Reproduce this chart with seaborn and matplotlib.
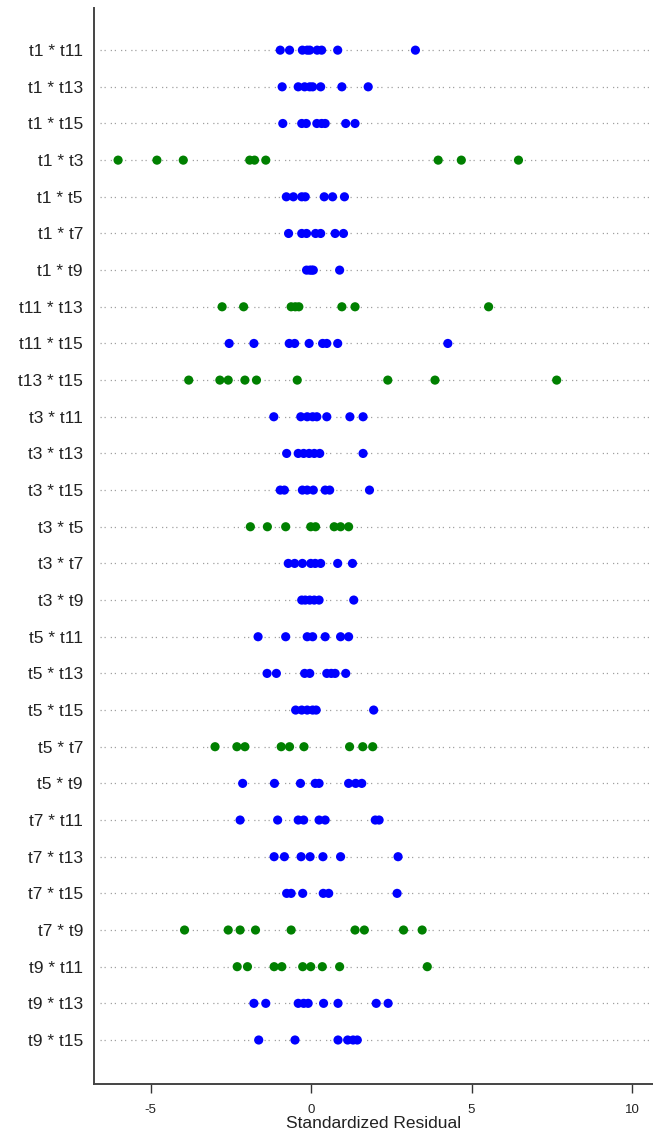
import numpy as np
import pandas as pd
import matplotlib
matplotlib.use("Agg")
import matplotlib.pyplot as plt
import seaborn as sns

# Item pairs, in display order (top to bottom)
pairs = [
    "t1 * t11", "t1 * t13", "t1 * t15", "t1 * t3", "t1 * t5", "t1 * t7", "t1 * t9",
    "t11 * t13", "t11 * t15", "t13 * t15", "t3 * t11", "t3 * t13", "t3 * t15",
    "t3 * t5", "t3 * t7", "t3 * t9", "t5 * t11", "t5 * t13", "t5 * t15", "t5 * t7",
    "t5 * t9", "t7 * t11", "t7 * t13", "t7 * t15", "t7 * t9", "t9 * t11",
    "t9 * t13", "t9 * t15",
]

# Standardized residuals for each pair
residuals = [
    [-0.96, -0.67, -0.27, -0.12, -0.04, 0.19, 0.33, 0.83, 3.25],
    [-0.90, -0.40, -0.20, -0.04, 0.05, 0.30, 0.96, 1.78],
    [-0.88, -0.29, -0.15, 0.18, 0.33, 0.44, 1.08, 1.37],
    [-6.01, -4.80, -3.98, -1.91, -1.76, -1.41, 3.96, 4.68, 6.46],
    [-0.77, -0.55, -0.29, -0.18, 0.41, 0.67, 1.04],
    [-0.70, -0.29, -0.14, 0.14, 0.30, 0.75, 1.01],
    [-0.14, -0.04, 0.02, 0.07, 0.89],
    [-2.77, -2.10, -0.62, -0.49, -0.38, 0.96, 1.37, 5.53],
    [-2.55, -1.78, -0.68, -0.51, -0.06, 0.36, 0.49, 0.83, 4.26],
    [-3.81, -2.84, -2.58, -2.06, -1.70, -0.43, 2.39, 3.86, 7.65],
    [-1.16, -0.32, -0.12, 0.05, 0.18, 0.49, 1.21, 1.62],
    [-0.76, -0.40, -0.23, -0.06, 0.10, 0.27, 1.62],
    [-0.96, -0.83, -0.27, -0.12, 0.07, 0.44, 0.58, 1.82],
    [-1.89, -1.36, -0.79, -0.01, 0.14, 0.72, 0.92, 1.17],
    [-0.71, -0.51, -0.27, -0.01, 0.13, 0.30, 0.83, 1.29],
    [-0.29, -0.18, -0.04, 0.10, 0.25, 1.33],
    [-1.65, -0.79, -0.12, 0.05, 0.44, 0.92, 1.17],
    [-1.37, -1.08, -0.20, -0.04, 0.49, 0.63, 0.75, 1.08],
    [-0.48, -0.29, -0.12, 0.05, 0.16, 1.95],
    [-2.99, -2.31, -2.06, -0.93, -0.67, -0.22, 1.20, 1.61, 1.92],
    [-2.13, -1.14, -0.33, 0.13, 0.25, 1.17, 1.39, 1.58],
    [-2.21, -1.04, -0.40, -0.23, 0.25, 0.44, 2.00, 2.12],
    [-1.15, -0.83, -0.31, -0.03, 0.37, 0.92, 2.71],
    [-0.76, -0.62, -0.26, 0.38, 0.55, 2.68],
    [-3.94, -2.58, -2.21, -1.73, -0.62, 1.37, 1.66, 2.88, 3.46],
    [-2.30, -1.98, -1.15, -0.91, -0.26, -0.01, 0.35, 0.89, 3.62],
    [-1.78, -1.41, -0.40, -0.23, -0.09, 0.39, 0.84, 2.03, 2.40],
    [-1.63, -0.50, 0.84, 1.14, 1.31, 1.44],
]

# Pairs of neighbouring items are flagged and drawn in green
neighbour_pairs = {"t1 * t3", "t3 * t5", "t5 * t7", "t7 * t9",
                   "t9 * t11", "t11 * t13", "t13 * t15"}

x_ticks = [-5, 0, 5, 10]
x_label = "Standardized Residual"

rows = []
for pair, vals in zip(pairs, residuals):
    group = "neighbour" if pair in neighbour_pairs else "other"
    for v in vals:
        rows.append({"pair": pair, "resid": v, "group": group})
df = pd.DataFrame(rows)

sns.set_style("white")
plt.rcParams["font.family"] = ["Liberation Sans", "DejaVu Sans"]

fig = plt.figure(figsize=(6.53, 11.38), dpi=100)
ax = fig.add_axes([94 / 653, 54 / 1138, 1 - 94 / 653, 1076 / 1138])

# Dotted guide line behind each row
for i in range(len(pairs)):
    ax.axhline(i, xmin=0.01, xmax=1.0, color="#a0a0a0", lw=0.9,
               linestyle=(0, (1, 2.2, 1, 4)), zorder=0)

sns.stripplot(data=df, x="resid", y="pair", hue="group", order=pairs,
              palette={"other": "#0000ff", "neighbour": "#008000"},
              jitter=False, size=6.6, linewidth=0, legend=False, ax=ax,
              zorder=3)

ax.set_xlim(-6.76, 10.65)
ax.set_ylim(len(pairs) - 1 + 1.2, -1.15)
ax.set_xticks(x_ticks)
ax.set_xticklabels([str(t) for t in x_ticks])
ax.set_xlabel(x_label, fontsize=12.5, color="#222222", labelpad=0)
ax.set_ylabel("")

ax.tick_params(axis="x", bottom=True, direction="out", length=6.5, width=1.0,
               color="#333333", labelsize=9.5, labelcolor="#222222", pad=8)
ax.tick_params(axis="y", left=False, length=0, labelsize=12.5,
               labelcolor="#222222", pad=8)

for side in ("top", "right"):
    ax.spines[side].set_visible(False)
for side in ("left", "bottom"):
    ax.spines[side].set_color("#444444")
    ax.spines[side].set_linewidth(1.4)
ax.grid(False)

fig.savefig("out.png", dpi=100)
